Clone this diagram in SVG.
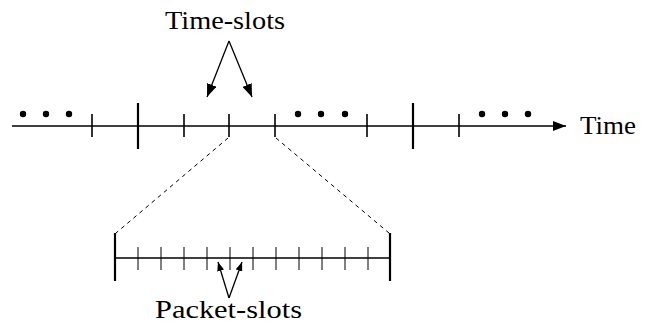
<svg xmlns="http://www.w3.org/2000/svg" width="647" height="329" viewBox="0 0 647 329">
<style>
.ln{stroke:#000;fill:none;stroke-width:1.3}
.tk{stroke:#000;stroke-width:1.6}
.tks{stroke:#000;stroke-width:1}
.tkb{stroke:#000;stroke-width:2.2}
.ds{stroke:#000;stroke-width:1;stroke-dasharray:4,4;fill:none}
.lbl{font-family:"Liberation Serif",serif;font-size:25px;fill:#000}
</style>
<defs>
<marker id="ah" markerWidth="13" markerHeight="10" refX="13" refY="5" orient="auto" markerUnits="userSpaceOnUse">
<path d="M0,0 L13,5 L0,10 Z" fill="#000"/>
</marker>
<marker id="ahs" markerWidth="9" markerHeight="7" refX="9" refY="3.5" orient="auto" markerUnits="userSpaceOnUse">
<path d="M0,0 L9,3.5 L0,7 Z" fill="#000"/>
</marker>
</defs>
<g id="timeline">
<line class="ln" x1="12" y1="126" x2="566" y2="126" marker-end="url(#ah)"/>
<circle cx="23" cy="114" r="3.2"/><circle cx="46" cy="114" r="3.2"/><circle cx="69" cy="114" r="3.2"/>
<circle cx="298" cy="114" r="3.2"/><circle cx="321" cy="114" r="3.2"/><circle cx="345" cy="114" r="3.2"/>
<circle cx="482" cy="114" r="3.2"/><circle cx="505" cy="114" r="3.2"/><circle cx="528" cy="114" r="3.2"/>
<line class="tk" x1="92" y1="114" x2="92" y2="137"/>
<line class="tkb" x1="138" y1="103" x2="138" y2="149"/>
<line class="tk" x1="184" y1="114" x2="184" y2="137"/>
<line class="tk" x1="229" y1="114" x2="229" y2="137"/>
<line class="tk" x1="275" y1="114" x2="275" y2="137"/>
<line class="tk" x1="367" y1="114" x2="367" y2="137"/>
<line class="tkb" x1="413" y1="103" x2="413" y2="149"/>
<line class="tk" x1="459" y1="114" x2="459" y2="137"/>
<text class="lbl" x="580" y="134" textLength="56" lengthAdjust="spacingAndGlyphs">Time</text>
</g>
<g id="time-slots">
<text class="lbl" x="165" y="29" textLength="120" lengthAdjust="spacingAndGlyphs">Time-slots</text>
</g>
<g id="packet-slots-axis">
<line class="ln" x1="115" y1="258" x2="390" y2="258"/>
<line class="tkb" x1="115" y1="233" x2="115" y2="281"/>
<line class="tkb" x1="390" y1="233" x2="390" y2="281"/>
<line class="tks" x1="138" y1="247" x2="138" y2="270"/>
<line class="tks" x1="161" y1="247" x2="161" y2="270"/>
<line class="tks" x1="184" y1="247" x2="184" y2="270"/>
<line class="tks" x1="207" y1="247" x2="207" y2="270"/>
<line class="tks" x1="230" y1="247" x2="230" y2="270"/>
<line class="tks" x1="253" y1="247" x2="253" y2="270"/>
<line class="tks" x1="276" y1="247" x2="276" y2="270"/>
<line class="tks" x1="299" y1="247" x2="299" y2="270"/>
<line class="tks" x1="322" y1="247" x2="322" y2="270"/>
<line class="tks" x1="345" y1="247" x2="345" y2="270"/>
<line class="tks" x1="368" y1="247" x2="368" y2="270"/>
</g>
<g id="packet-slots">
<text class="lbl" x="155" y="318" textLength="147" lengthAdjust="spacingAndGlyphs">Packet-slots</text>
</g>
<g id="connectors">
<line class="ln" stroke-width="1" x1="229" y1="41" x2="207" y2="97" marker-end="url(#ah)"/>
<line class="ln" stroke-width="1" x1="229" y1="41" x2="252" y2="97" marker-end="url(#ah)"/>
<line class="ds" x1="228" y1="138" x2="116" y2="233"/>
<line class="ds" x1="276" y1="138" x2="389" y2="233"/>
<line class="ln" stroke-width="1" x1="229" y1="298" x2="218" y2="262" marker-end="url(#ahs)"/>
<line class="ln" stroke-width="1" x1="229" y1="298" x2="242" y2="262" marker-end="url(#ahs)"/>
</g>
</svg>
